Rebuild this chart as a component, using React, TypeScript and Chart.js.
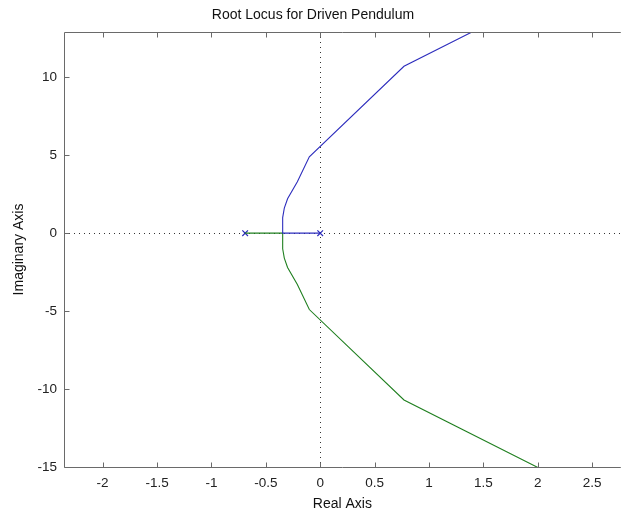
import React, { useEffect, useRef } from "react";
import { Chart, registerables } from "chart.js";

Chart.register(...registerables);

// Branch 1 (blue): starts at pole s=0, goes left to breakaway then upward
const blueRe = [0, -0.345, -0.345, -0.33, -0.3, -0.21, -0.1, 0.77, 2.02];
const blueIm = [0, 0, 1.0, 1.6, 2.2, 3.3, 4.9, 10.7, 15.1];
// Branch 2 (green): starts at pole s=-0.69, goes right to breakaway then downward
const greenRe = [-0.69, -0.345, -0.345, -0.33, -0.3, -0.21, -0.1, 0.77, 2.02];
const greenIm = [0, 0, -1.0, -1.6, -2.2, -3.3, -4.9, -10.7, -15.1];
// Open-loop poles
const poleRe = [-0.69, 0];
const poleIm = [0, 0];

const xTicks = [-2, -1.5, -1, -0.5, 0, 0.5, 1, 1.5, 2, 2.5];
const yTicks = [-15, -10, -5, 0, 5, 10];
const xRange = [-2.355, 2.763];
const yRange = [-15, 12.9];

const BLUE = "#2d2dbd";
const GREEN = "#1f7f1f";
const FRAME = "#6a6a6a";

const toPts = (xs: number[], ys: number[]) => xs.map((x, i) => ({ x, y: ys[i] }));

const zeroLines = {
  id: "zeroLines",
  beforeDatasetsDraw(chart: any) {
    const { ctx, chartArea, scales } = chart;
    const x0 = Math.round(scales.x.getPixelForValue(0)) + 0.5;
    const y0 = Math.round(scales.y.getPixelForValue(0)) + 0.5;
    ctx.save();
    ctx.strokeStyle = "#333";
    ctx.lineWidth = 1;
    ctx.setLineDash([1, 4]);
    ctx.beginPath();
    ctx.moveTo(x0, chartArea.top);
    ctx.lineTo(x0, chartArea.bottom);
    ctx.moveTo(chartArea.left, y0);
    ctx.lineTo(chartArea.right, y0);
    ctx.stroke();
    ctx.restore();
  },
};

const frame = {
  id: "frame",
  afterDatasetsDraw(chart: any) {
    const { ctx, chartArea, scales } = chart;
    const { left, top, bottom, right } = chartArea;
    const L = Math.round(left) + 0.5;
    const T = Math.round(top) + 0.5;
    const B = Math.round(bottom) + 0.5;
    ctx.save();
    ctx.strokeStyle = FRAME;
    ctx.lineWidth = 1;
    ctx.beginPath();
    ctx.moveTo(L, T);
    ctx.lineTo(right, T);
    ctx.moveTo(L, T);
    ctx.lineTo(L, B);
    ctx.lineTo(right, B);
    const tl = 5;
    xTicks.forEach((v) => {
      const px = Math.round(scales.x.getPixelForValue(v)) + 0.5;
      ctx.moveTo(px, B);
      ctx.lineTo(px, B - tl);
      ctx.moveTo(px, T);
      ctx.lineTo(px, T + tl);
    });
    yTicks.forEach((v) => {
      const py = Math.round(scales.y.getPixelForValue(v)) + 0.5;
      ctx.moveTo(L, py);
      ctx.lineTo(L + tl, py);
    });
    ctx.stroke();
    ctx.restore();
  },
};

export default function App() {
  const ref = useRef<HTMLCanvasElement>(null);
  useEffect(() => {
    document.body.style.margin = "0";
    const font = "'Liberation Sans', Arial, sans-serif";
    const chart = new Chart(ref.current as HTMLCanvasElement, {
      type: "scatter",
      data: {
        datasets: [
          {
            data: toPts(blueRe, blueIm),
            showLine: true,
            borderColor: BLUE,
            borderWidth: 1.1,
            pointRadius: 0,
            tension: 0,
          },
          {
            data: toPts(greenRe, greenIm),
            showLine: true,
            borderColor: GREEN,
            borderWidth: 1.1,
            pointRadius: 0,
            tension: 0,
          },
          {
            data: toPts(poleRe, poleIm),
            showLine: false,
            pointStyle: "crossRot",
            pointRadius: 4,
            borderColor: BLUE,
            borderWidth: 1.2,
            backgroundColor: BLUE,
          },
        ],
      },
      options: {
        animation: false,
        responsive: false,
        devicePixelRatio: 1,
        layout: { padding: 0 },
        plugins: {
          legend: { display: false },
          tooltip: { enabled: false },
          title: {
            display: true,
            text: "Root Locus for Driven Pendulum",
            color: "#111",
            font: { family: font, size: 14, weight: "normal" },
            padding: { top: 7, bottom: 8.2 },
          },
        },
        scales: {
          x: {
            type: "linear",
            min: xRange[0],
            max: xRange[1],
            afterFit: (s: any) => {
              s.height = 47;
            },
            afterBuildTicks: (s: any) => {
              s.ticks = xTicks.map((v) => ({ value: v }));
            },
            ticks: {
              includeBounds: false,
              padding: 8,
              color: "#222",
              font: { family: font, size: 13.5 },
              maxRotation: 0,
              callback: (v: any) => String(v),
            },
            grid: { display: false, drawTicks: false },
            border: { display: false },
            title: {
              display: true,
              text: "Real Axis",
              color: "#111",
              font: { family: font, size: 14 },
              padding: { top: 0, bottom: 1 },
            },
          },
          y: {
            type: "linear",
            min: yRange[0],
            max: yRange[1],
            afterFit: (s: any) => {
              s.width = 64;
            },
            afterBuildTicks: (s: any) => {
              s.ticks = yTicks.map((v) => ({ value: v }));
            },
            ticks: {
              includeBounds: false,
              padding: 7,
              color: "#222",
              font: { family: font, size: 13.5 },
              callback: (v: any) => String(v),
            },
            grid: { display: false, drawTicks: false },
            border: { display: false },
            title: {
              display: true,
              text: "Imaginary Axis",
              color: "#111",
              font: { family: font, size: 14 },
              padding: { top: 11, bottom: 0 },
            },
          },
        },
      },
      plugins: [zeroLines, frame],
    } as any);
    return () => chart.destroy();
  }, []);
  return (
    <div style={{ position: "absolute", left: 0, top: 0, width: 626, height: 514 }}>
      <canvas ref={ref} width={626} height={514} style={{ display: "block" }} />
    </div>
  );
}
